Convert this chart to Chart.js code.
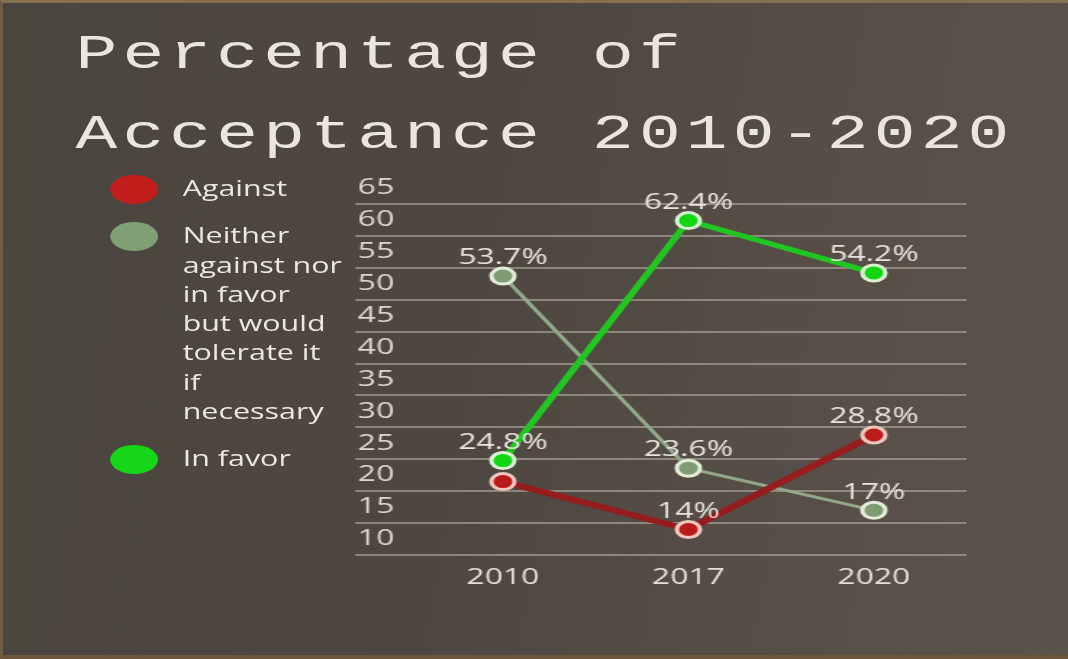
<!DOCTYPE html>
<html>
<head>
<meta charset="utf-8">
<script src="https://cdn.jsdelivr.net/npm/chart.js@4"></script>
<style>
  html, body { margin: 0; padding: 0; }
  body {
    width: 1068px; height: 659px; overflow: hidden; position: relative;
    background: linear-gradient(100deg, #4b4540 0%, #4e4741 45%, #585048 80%, #5b534b 100%);
    box-sizing: border-box;
    border-top: 3px solid #86704f;
    border-left: 3px solid #6f5d45;
    border-bottom: 4px solid #6a5638;
  }
  /* the reference is stretched sideways, so the whole page is drawn narrow and widened */
  #page {
    position: absolute; left: 0; top: 0; width: 737px; height: 659px;
    transform: scaleX(1.449); transform-origin: 0 0;
  }
  #title {
    position: absolute; left: 50px; top: 12px;
    font-family: "Liberation Mono", monospace; font-size: 48px; line-height: 80px;
    letter-spacing: 3.6px; color: #ebe6dc; white-space: nowrap;
  }
  #legend { position: absolute; left: 74px; top: 171px; width: 170px; }
  .item { position: relative; padding-left: 50px; margin-bottom: 18px;
          font-family: "Open Sans", sans-serif; font-size: 21px; line-height: 29.3px; color: #ece8e0; }
  .dot { position: absolute; left: 0; top: 1px; width: 33px; height: 29px; border-radius: 50%; }
  #chart { position: absolute; left: 0; top: 0; }
</style>
</head>
<body>
<div id="page">
  <div id="title">Percentage of<br>Acceptance 2010-2020</div>
  <div id="legend"></div>
  <canvas id="chart" width="737" height="659"></canvas>
</div>
<script>
const years = ["2010", "2017", "2020"];
const seriesNames = [
  ["Against"],
  ["Neither", "against nor", "in favor", "but would", "tolerate it", "if", "necessary"],
  ["In favor"]
];
const against = [21.5, 14, 28.8];
const neither = [53.7, 23.6, 17];
const inFavor = [24.8, 62.4, 54.2];
// which points carry a value label
const againstShown = [false, true, true];
const neitherShown = [true, true, true];
const inFavorShown = [true, true, true];
const yMin = 10, yMax = 65, yStep = 5;

const colors = [
  { line: "#961d1d", fill: "#bb1a1a", ring: "#f0c6bd", dot: "#c21e1c" },
  { line: "#93a88a", fill: "#7e9b72", ring: "#e4ecdc", dot: "#7f9f74" },
  { line: "#22c622", fill: "#12d612", ring: "#d8f2d2", dot: "#17d617" }
];
const widths = [6, 3, 5];
const values = [against, neither, inFavor];
const shown = [againstShown, neitherShown, inFavorShown];

// html legend
const legend = document.getElementById("legend");
seriesNames.forEach((lines, i) => {
  const item = document.createElement("div");
  item.className = "item";
  item.innerHTML = '<span class="dot" style="background:' + colors[i].dot + '"></span>' + lines.join("<br>");
  legend.appendChild(item);
});

Chart.defaults.font.family = "'Open Sans', sans-serif";

const valueLabels = {
  id: "valueLabels",
  afterDatasetsDraw(chart) {
    const ctx = chart.ctx;
    ctx.save();
    ctx.font = "22px 'Open Sans', sans-serif";
    ctx.fillStyle = "#e8e4dc";
    ctx.textAlign = "center";
    ctx.textBaseline = "middle";
    chart.data.datasets.forEach((ds, i) => {
      chart.getDatasetMeta(i).data.forEach((pt, j) => {
        if (!ds.shown[j]) return;
        ctx.fillText(ds.data[j] + "%", pt.x, pt.y - 18);
      });
    });
    ctx.restore();
  }
};

const datasets = values.map((data, i) => ({
  label: seriesNames[i].join(" "),
  data: data,
  shown: shown[i],
  borderColor: colors[i].line,
  borderWidth: widths[i],
  pointBackgroundColor: colors[i].fill,
  pointBorderColor: colors[i].ring,
  pointBorderWidth: 3,
  pointRadius: 8,
  tension: 0,
  order: [1, 2, 0][i]
}));

new Chart(document.getElementById("chart"), {
  type: "line",
  data: { labels: years, datasets },
  options: {
    responsive: false,
    animation: false,
    devicePixelRatio: 1,
    layout: { padding: { left: 241, right: 72, top: 201, bottom: 67 } },
    plugins: { legend: { display: false }, title: { display: false }, tooltip: { enabled: false } },
    scales: {
      x: {
        offset: true,
        grid: { display: false, drawTicks: false },
        border: { display: false },
        ticks: { color: "#e4e0d8", font: { size: 22 }, padding: 10 },
        afterFit: s => { s.height = 40; }
      },
      y: {
        min: yMin, max: yMax,
        grid: { color: "rgba(190,184,174,0.55)", lineWidth: 2, tickLength: 38 },
        border: { display: false },
        ticks: { stepSize: yStep, color: "#ddd8cf", font: { size: 22 }, padding: -27, labelOffset: -16 },
        afterFit: s => { s.width = 40; }
      }
    }
  },
  plugins: [valueLabels]
});
</script>
</body>
</html>
